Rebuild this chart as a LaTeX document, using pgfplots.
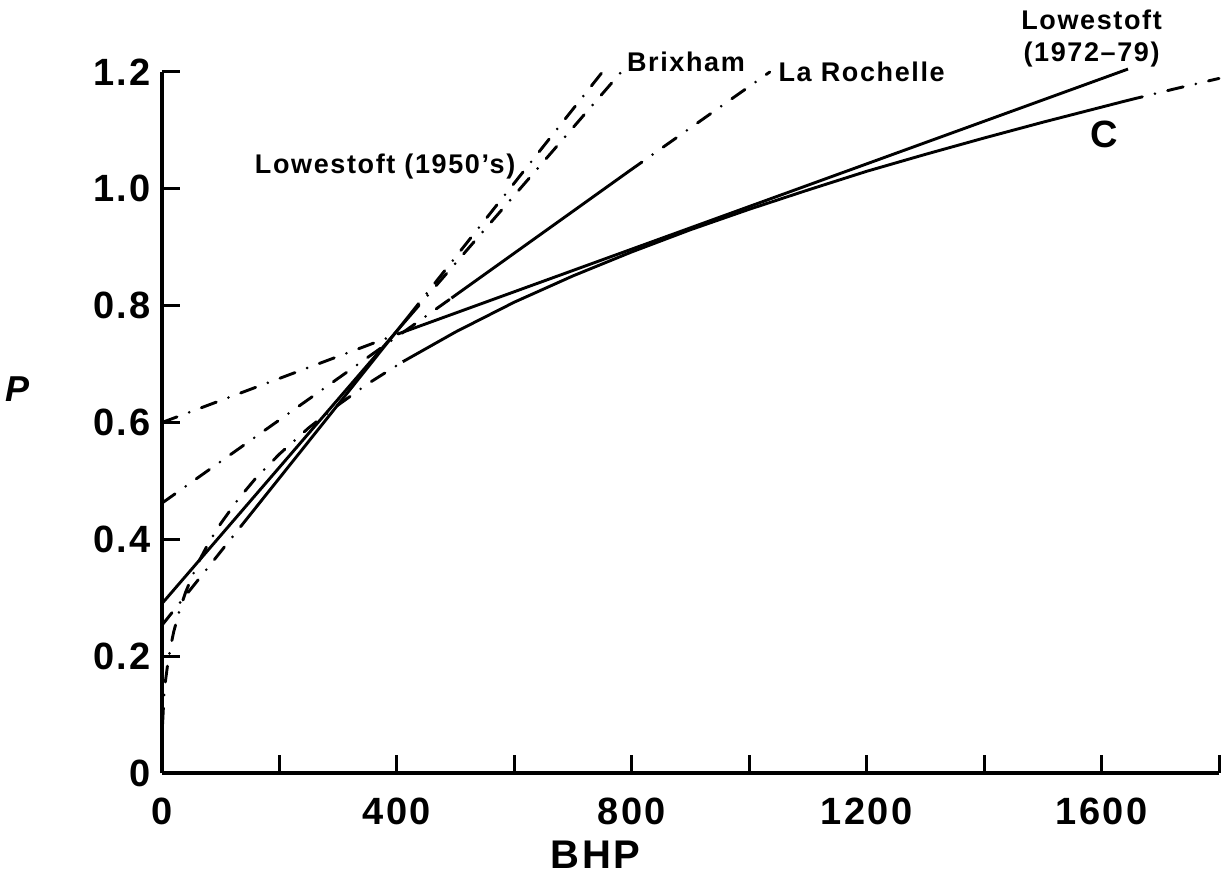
\documentclass[border=0pt]{standalone}
\usepackage{fontspec}
\setmainfont{Liberation Sans}
\usepackage{pgfplots}
\pgfplotsset{compat=1.18}

\newcommand\ls{\addfontfeature{LetterSpace=6}}
\tikzset{
  dd/.style={line width=1.45pt, line cap=round, dash pattern=on 8pt off 6.5pt on 0pt off 6.5pt},
  sl/.style={line width=1.45pt, solid},
  lab/.style={font=\fontsize{13.5}{16}\selectfont\bfseries\ls},
}

\begin{document}
\begin{tikzpicture}
\begin{axis}[
  scale only axis, width=528.5pt, height=350.5pt,
  xmin=0, xmax=1800, ymin=0, ymax=1.2,
  axis lines=left, axis line style={-, line width=1.8pt},
  xtick={0,200,...,1800}, xticklabels={0,,400,,800,,1200,,1600,},
  ytick={0,0.2,0.4,0.6,0.8,1.0,1.2}, yticklabels={0,0.2,0.4,0.6,0.8,1.0,1.2},
  tick align=inside, major tick length=9pt,
  tick style={line width=1.5pt, black},
  tick label style={font=\fontsize{19}{21}\selectfont\bfseries\ls},
  /pgf/number format/assume math mode=true,
  xticklabel style={yshift=-9pt},
  yticklabel style={xshift=-2pt},
  clip=false,
]
\coordinate (bl) at (rel axis cs:0,0);
\coordinate (tr) at (rel axis cs:1,1);

% Lowestoft (1972-79)
\addplot[dd] coordinates {(0,0.60) (403,0.752)};
\addplot[sl] coordinates {(403,0.752) (1645,1.205)};
% La Rochelle
\addplot[dd] coordinates {(0,0.462) (493,0.813)};
\addplot[sl] coordinates {(493,0.813) (795,1.03)};
\addplot[dd] coordinates {(795,1.03) (1035,1.2)};
% Brixham
\addplot[sl] coordinates {(0,0.29) (420,0.78)};
\addplot[dd] coordinates {(420,0.78) (782,1.2)};
% Lowestoft (1950's)
\addplot[dd] coordinates {(0,0.253) (150,0.442)};
\addplot[sl] coordinates {(150,0.442) (420,0.782)};
\addplot[dd] coordinates {(420,0.782) (750,1.2)};
% C
\addplot[dd] coordinates {(1,0.084) (3,0.124) (6,0.158) (10,0.189) (15,0.218)
  (20,0.242) (30,0.279) (40,0.309) (60,0.357) (80,0.395) (100,0.427)
  (130,0.469) (160,0.505) (200,0.546) (250,0.591) (300,0.630) (350,0.666) (410,0.704)};
\addplot[sl] coordinates {(410,0.704) (500,0.755) (600,0.806) (700,0.851) (800,0.892)
  (900,0.930) (1000,0.965) (1100,0.998) (1200,1.030) (1300,1.059) (1400,1.087)
  (1500,1.114) (1643,1.151)};
\addplot[dd] coordinates {(1643,1.151) (1720,1.170) (1800,1.189)};

\node[lab, anchor=west] at (axis cs:780,1.217) {Brixham};
\node[lab, anchor=west] at (axis cs:1038,1.2) {La Rochelle};
\node[lab] at (axis cs:380,1.038) {Lowestoft (1950's)};
\node[lab, align=center] at (axis cs:1583,1.258) {Lowestoft\\(1972--79)};
\node[font=\fontsize{19}{21}\selectfont\bfseries] at (axis cs:1605,1.093) {C};
\node[font=\fontsize{18}{20}\selectfont\bfseries\itshape, xshift=-72pt] at (rel axis cs:0,0.547) {P};
\node[font=\fontsize{20}{22}\selectfont\bfseries\ls, yshift=-41pt] at (rel axis cs:0.41,0) {BHP};
\end{axis}
\pgfresetboundingbox
\path ([shift={(-81pt,-54.5pt)}]bl) rectangle ([shift={(2.5pt,36pt)}]tr);
\end{tikzpicture}
\end{document}
